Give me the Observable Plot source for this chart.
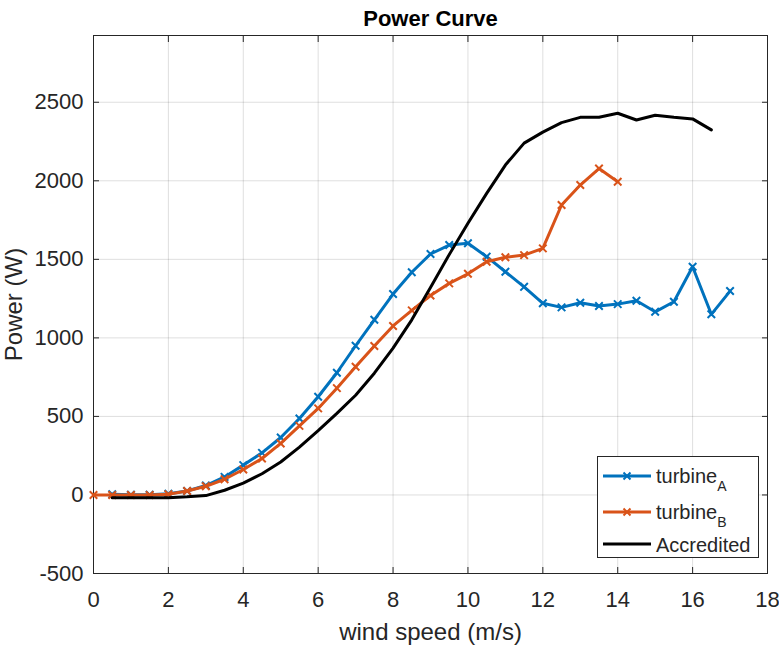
<!DOCTYPE html>
<html><head><meta charset="utf-8">
<script src="https://cdn.jsdelivr.net/npm/d3@7"></script>
<script src="https://cdn.jsdelivr.net/npm/@observablehq/plot@0.6"></script>
<style>
body{margin:0;background:#fff;}
#wrap{position:relative;width:779px;height:649px;font-family:"Liberation Sans",Arial,Helvetica,sans-serif;}
#legend{position:absolute;left:597px;top:456px;}
</style></head><body><div id="wrap"></div>
<script>
// ---- data ----
const windA  = [0.5,1,1.5,2,2.5,3,3.5,4,4.5,5,5.5,6,6.5,7,7.5,8,8.5,9,9.5,10,10.5,11,11.5,12,12.5,13,13.5,14,14.5,15,15.5,16,16.5,17];
const powerA = [5,2,2,8,25,60,115,190,268,366,487,625,778,950,1115,1279,1418,1534,1591,1602,1517,1421,1325,1220,1194,1224,1203,1215,1236,1166,1230,1453,1150,1298];
const windB  = [0,0.5,1,1.5,2,2.5,3,3.5,4,4.5,5,5.5,6,6.5,7,7.5,8,8.5,9,9.5,10,10.5,11,11.5,12,12.5,13,13.5,14];
const powerB = [0,0,0,0,5,25,55,100,162,232,328,440,551,680,816,948,1076,1175,1270,1347,1408,1485,1513,1527,1570,1846,1973,2078,1994];
const windAcc  = [0.5,1,1.5,2,2.5,3,3.5,4,4.5,5,5.5,6,6.5,7,7.5,8,8.5,9,9.5,10,10.5,11,11.5,12,12.5,13,13.5,14,14.5,15,15.5,16,16.5];
const powerAcc = [-18,-18,-18,-17,-12,-4,30,75,135,210,305,409,519,635,775,935,1115,1320,1530,1730,1920,2100,2240,2310,2370,2404,2404,2430,2387,2417,2404,2394,2324];
const xTicks = [0,2,4,6,8,10,12,14,16,18];
const yTicks = [-500,0,500,1000,1500,2000,2500];
const seriesNames = ["turbineA","turbineB","Accredited"];
const colors = ["#0072BD","#D95319","#000000"];
const titleText = "Power Curve";
const xLabel = "wind speed (m/s)";
const yLabel = "Power (W)";

const A = windA.map((w,i)=>({wind:w, power:powerA[i]}));
const B = windB.map((w,i)=>({wind:w, power:powerB[i]}));
const C = windAcc.map((w,i)=>({wind:w, power:powerAcc[i]}));
const fmt = d => String(d);
const font = "Liberation Sans, Arial, Helvetica, sans-serif";

const chart = Plot.plot({
  width: 779, height: 649,
  marginLeft: 93, marginRight: 12, marginTop: 35, marginBottom: 76,
  style: {fontFamily: font, fontSize: "22px", color: "#262626", background: "#fff", overflow: "visible"},
  x: {domain: [0, 18]},
  y: {domain: [-500, 2925]},
  marks: [
    Plot.gridX(xTicks, {stroke: "#000", strokeOpacity: 0.13}),
    Plot.gridY(yTicks, {stroke: "#000", strokeOpacity: 0.13}),
    Plot.axisX(xTicks, {anchor: "bottom", tickSize: -6, tickPadding: 24, tickFormat: fmt, label: null}),
    Plot.axisX(xTicks, {anchor: "top", tickSize: -6, tickFormat: () => "", label: null}),
    Plot.axisY(yTicks, {anchor: "left", tickSize: -6, tickPadding: 16, tickFormat: fmt, label: null}),
    Plot.axisY(yTicks, {anchor: "right", tickSize: -6, tickFormat: () => "", label: null}),
    Plot.frame({stroke: "#262626"}),
    Plot.line(A, {x: "wind", y: "power", stroke: colors[0], strokeWidth: 3}),
    Plot.dot(A, {x: "wind", y: "power", symbol: "times", r: 3.5, stroke: colors[0], strokeWidth: 2}),
    Plot.line(B, {x: "wind", y: "power", stroke: colors[1], strokeWidth: 3}),
    Plot.dot(B, {x: "wind", y: "power", symbol: "times", r: 3.5, stroke: colors[1], strokeWidth: 2}),
    Plot.line(C, {x: "wind", y: "power", stroke: colors[2], strokeWidth: 3}),
    Plot.text([titleText], {text: d => d, frameAnchor: "top", lineAnchor: "middle", dy: -17, fontWeight: "bold", fontSize: 22, fill: "#000"}),
    Plot.text([xLabel], {text: d => d, frameAnchor: "bottom", lineAnchor: "middle", dy: 59, fontSize: 24, fill: "#262626"}),
    Plot.text([yLabel], {text: d => d, frameAnchor: "left", textAnchor: "middle", lineAnchor: "middle", dx: -79, rotate: -90, fontSize: 24, fill: "#262626"})
  ]
});
const wrap = document.getElementById("wrap");
wrap.appendChild(chart);

// legend (inside the axes, lower right)
const ns = "http://www.w3.org/2000/svg";
const lg = document.createElementNS(ns, "svg");
lg.setAttribute("id", "legend");
lg.setAttribute("width", 162); lg.setAttribute("height", 102);
lg.innerHTML = `<rect x="0.5" y="0.5" width="161" height="101" fill="#fff" stroke="#262626"/>`;
const rowsY = [20, 56, 88];
seriesNames.forEach((name, i) => {
  const y = rowsY[i];
  let s = `<line x1="6" x2="54" y1="${y}" y2="${y}" stroke="${colors[i]}" stroke-width="3"/>`;
  if (i < 2) s += `<path d="M${30-3.5},${y-3.5}L${30+3.5},${y+3.5}M${30-3.5},${y+3.5}L${30+3.5},${y-3.5}" stroke="${colors[i]}" stroke-width="2"/>`;
  if (i < 2) {
    s += `<text x="59" y="${y+7}" font-size="20" fill="#262626" font-family="${font}">turbine<tspan font-size="14" dy="8">${name.slice(-1)}</tspan></text>`;
  } else {
    s += `<text x="59" y="${y+8}" font-size="20" fill="#262626" font-family="${font}">${name}</text>`;
  }
  lg.insertAdjacentHTML("beforeend", s);
});
wrap.appendChild(lg);
</script></body></html>
